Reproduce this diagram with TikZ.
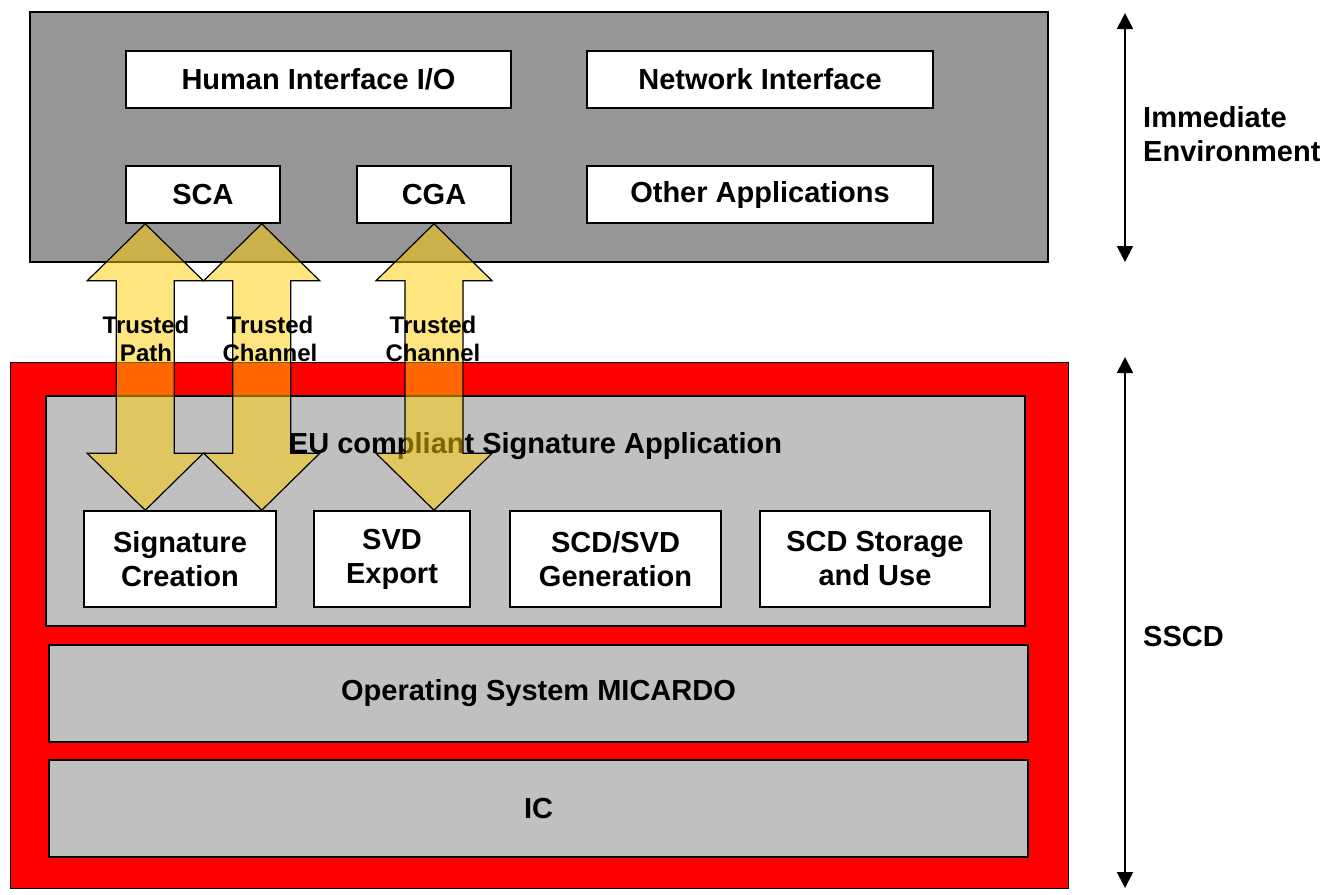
\documentclass[tikz,border=0pt]{standalone}
\usepackage{fontspec}
\setmainfont{Liberation Sans}
\usepackage{tikz}
\usetikzlibrary{calc,arrows.meta,positioning}
\definecolor{envgray}{HTML}{969696}
\definecolor{appgray}{HTML}{C0C0C0}
\definecolor{trustfill}{HTML}{FFCC00}
\tikzset{
  layer/.style={draw,line width=1.5pt,inner sep=0pt},
  blk/.style={draw,line width=1.5pt,fill=white,inner sep=0pt,align=center},
  trust/.style={draw,line width=1.2pt,fill=trustfill,fill opacity=0.5,line join=miter},
  span/.style={{Triangle[length=16pt,width=16pt]}-{Triangle[length=16pt,width=16pt]},line width=1.8pt},
  tlabel/.style={font=\bfseries\fontsize{24}{28}\selectfont,align=center,inner sep=0pt},
  every node/.style={font=\bfseries\fontsize{29}{34}\selectfont}
}
\newcommand{\trustarrow}[2]{% double arrow, tip #1 on top, tip #2 below
  \draw[trust] (#1) -- ++(58,57) -- ++(-29,0) -- ($(#2)+(29,-57)$) -- ++(29,0)
    -- (#2) -- ++(-58,-57) -- ++(29,0) -- ($(#1)+(-29,57)$) -- ++(-29,0) -- cycle;}

\begin{document}
\begin{tikzpicture}[x=1pt,y=-1pt]
  \useasboundingbox (0,0) rectangle (1338,894);

  % immediate environment
  \node[layer,fill=envgray,minimum width=1018pt,minimum height=250pt] (env) at (539,137) {};
  \node[blk,minimum width=385pt,minimum height=57pt] (hio) at (318.5,79.5) {Human Interface I/O};
  \node[blk,minimum width=346pt,minimum height=57pt] (net) at (760,79.5) {Network Interface};
  \node[blk,minimum width=154pt,minimum height=57pt] (sca) at (203,194.5) {SCA};
  \node[blk,minimum width=154pt,minimum height=57pt] (cga) at (434,194.5) {CGA};
  \node[blk,minimum width=346pt,minimum height=57pt] (oth) at (760,194.5) {Other Applications};

  % SSCD
  \node[layer,line width=1pt,fill=red,minimum width=1058pt,minimum height=526pt] (sscd) at (539,625) {};
  \node[layer,fill=appgray,minimum width=979pt,minimum height=230pt] (eu) at (535.5,511) {};
  \node[blk,minimum width=192pt,minimum height=96pt] (sig) at (180,559) {Signature\\Creation};
  \node[blk,minimum width=156pt,minimum height=96pt] (svd) at (392,559) {SVD\\Export};
  \node[blk,minimum width=211pt,minimum height=96pt] (gen) at (615.5,559) {SCD/SVD\\Generation};
  \node[blk,minimum width=230pt,minimum height=96pt] (sto) at (875,559) {SCD Storage\\and Use};
  \node[layer,fill=appgray,minimum width=979pt,minimum height=97pt] (os) at (538.5,693.5) {Operating System MICARDO};
  \node[layer,fill=appgray,minimum width=979pt,minimum height=97pt] (ic) at (538.5,808.5) {IC};
  \node[anchor=base,inner sep=0pt] (eutxt) at (535.5,453) {EU compliant Signature Application};

  % trusted path / channels
  \coordinate (t1) at ([xshift=20pt]sca.south west);
  \coordinate (t2) at ([xshift=-19pt]sca.south east);
  \coordinate (t3) at (cga.south);
  \coordinate (b1) at (t1 |- sig.north);
  \coordinate (b2) at (t2 |- sig.north);
  \coordinate (b3) at (t3 |- svd.north);
  \trustarrow{t1}{b1}
  \trustarrow{t2}{b2}
  \trustarrow{t3}{b3}
  \node[tlabel] (tp) at (146,339) {Trusted\\Path};
  \node[tlabel] (tc1) at (270,339) {Trusted\\Channel};
  \node[tlabel] (tc2) at (433,339) {Trusted\\Channel};

  % extents on the right
  \coordinate (ie-top) at (1125,13);
  \coordinate (ie-bot) at (1125,262);
  \coordinate (ss-top) at (1125,357);
  \coordinate (ss-bot) at (1125,888);
  \draw[span] (ie-top) -- (ie-bot);
  \draw[span] (ss-top) -- (ss-bot);
  \node[anchor=west,align=left,inner sep=0pt] (ielbl) at (1143,134) {Immediate\\Environment};
  \node[anchor=west,inner sep=0pt] (sslbl) at (1143,637) {SSCD};
\end{tikzpicture}
\end{document}
